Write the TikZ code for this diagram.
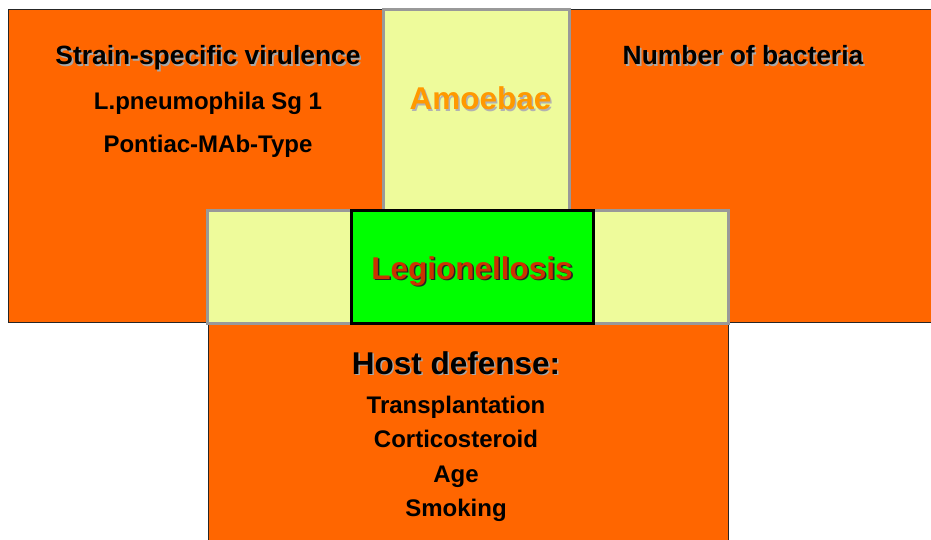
\documentclass[tikz,border=0pt]{standalone}
\usepackage{fontspec}
\setmainfont{Liberation Sans}
\definecolor{orng}{HTML}{FF6600}
\definecolor{ylw}{HTML}{EEFB9B}
\definecolor{grn}{HTML}{00FF00}
\definecolor{legred}{HTML}{CC3300}
\definecolor{amber}{HTML}{FF9900}
\definecolor{bord}{HTML}{999999}
\definecolor{shd}{HTML}{A8A8A8}
\newcommand{\shtext}[2]{\makebox[0pt][l]{\kern1.6pt\raisebox{-1.6pt}{\textcolor{#1}{#2}}}#2}
\tikzset{
  box/.style={anchor=north west, inner sep=0pt, outer sep=0pt, rectangle},
  orangebox/.style={box, fill=orng, draw=black!85, line width=1pt},
  ylwbox/.style={box, fill=ylw, draw=bord, line width=3pt},
  grnbox/.style={box, fill=grn, draw=black, line width=3pt},
  hdr/.style={font=\fontsize{26.4}{30}\selectfont\bfseries, anchor=base, inner sep=0pt},
  sub/.style={font=\fontsize{24}{28}\selectfont\bfseries, anchor=base, inner sep=0pt},
  big/.style={font=\fontsize{31.5}{36}\selectfont\bfseries, anchor=base, inner sep=0pt},
}
\begin{document}
\begin{tikzpicture}[x=1pt,y=-1pt]
\useasboundingbox (0,0) rectangle (931,540);
\clip (0,0) rectangle (931,540);
\fill[white] (0,0) rectangle (931,540);
% boxes
\node[orangebox, minimum width=940pt, minimum height=312pt] (topbox) at (8,10) {};
\node[orangebox, minimum width=520pt, minimum height=240pt] (hostbox) at (208,322) {};
\node[ylwbox, minimum width=521pt, minimum height=113pt] (bar) at (207,210) {};
\node[ylwbox, minimum width=186pt, minimum height=200pt] (amoebox) at (383,10) {};
\node[grnbox, minimum width=242pt, minimum height=113pt] (legbox) at (351,210) {};
% top-left texts
\node[hdr] (strain) at (208,65) {\shtext{shd}{Strain-specific virulence}};
\node[sub] (lpn) at (208,110) {L.pneumophila Sg 1};
\node[sub] (pont) at (208,153) {Pontiac-MAb-Type};
% top-right
\node[hdr] (num) at (743,65) {\shtext{shd}{Number of bacteria}};
% amoebae
\node[big, text=amber] (amo) at (480.5,110) {\shtext{black!30}{Amoebae}};
% legionellosis
\node[big, text=legred] (leg) at (472,279) {\shtext{black!85}{Legionellosis}};
% host defense
\node[big] (host) at (456,374) {\shtext{shd}{Host defense:}};
\node[sub] (t1) at (456,413) {Transplantation};
\node[sub] (t2) at (456,447) {Corticosteroid};
\node[sub] (t3) at (456,482) {Age};
\node[sub] (t4) at (456,516) {Smoking};
\end{tikzpicture}
\end{document}
